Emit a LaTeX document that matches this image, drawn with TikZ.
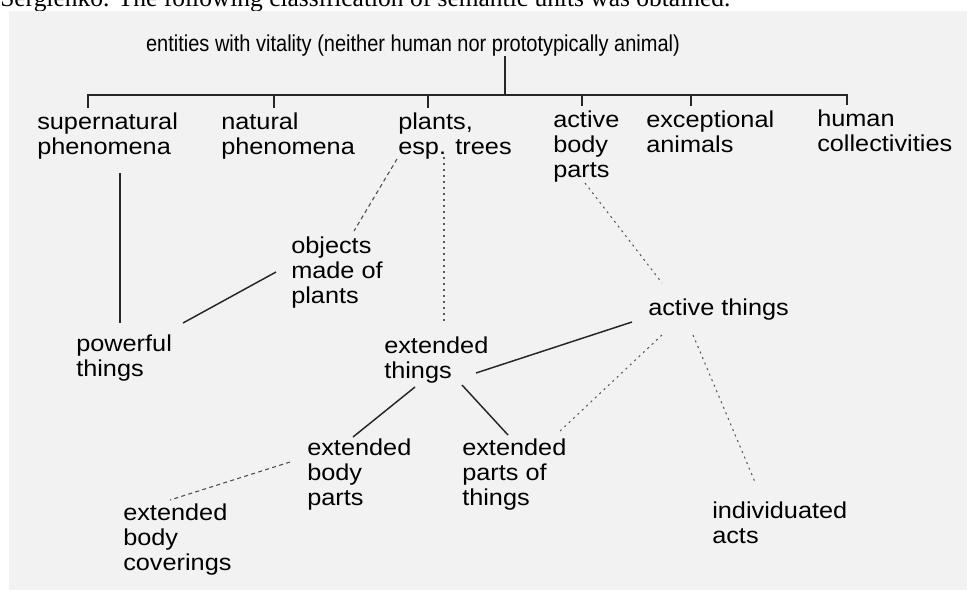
\documentclass[tikz,border=0pt]{standalone}
\usepackage{fontspec}
\setmainfont{Liberation Serif}
\newfontfamily\lblfont{Liberation Sans}[FakeStretch=1.1]
\newfontfamily\headfont{Liberation Sans}[FakeStretch=0.87]
% stacked lines, baseline on the first one
\newcommand{\lines}[1]{\begin{tabular}[t]{@{}l@{}}#1\end{tabular}}

\begin{document}
\begin{tikzpicture}[x=0.75pt, y=-0.75pt,
			lbl/.style={anchor=base west, inner sep=0pt, font=\lblfont\fontsize{17.25}{18.75}\selectfont},
			head/.style={anchor=base, inner sep=0pt, font=\headfont\fontsize{17.25}{18.75}\selectfont},
			solidline/.style={line width=1.1pt, black!85},
			dashline/.style={line width=0.8pt, black!70, dash pattern=on 3pt off 2.5pt},
			dotline/.style={line width=0.8pt, black!65, dash pattern=on 1.5pt off 3pt},
			]
			\useasboundingbox (0,0) rectangle (967,590);
			\clip (0,0) rectangle (967,590);
			
			% ---- caption and scanned page ----
			\node[anchor=base west, inner sep=0pt, font=\fontsize{19.1}{21}\selectfont] (caption) at (0,6.5) {Sergienko. The following classification of semantic units was obtained.};
			\fill[black!5] (9,11) rectangle (967,590);
			
			% ---- top level ----
			\node[head] (vital) at (413,51) {entities with vitality (neither human nor prototypically animal)};
			\coordinate (fork) at (505,95);
			\node[lbl] (supnat) at (37,129) {\lines{supernatural\\phenomena}};
			\node[lbl] (natphen) at (221,129) {\lines{natural\\phenomena}};
			\node[lbl] (plants) at (398,129) {\lines{plants,\\esp. trees}};
			\node[lbl] (actbody) at (553,127) {\lines{active\\body\\parts}};
			\node[lbl] (excanim) at (646,127) {\lines{exceptional\\animals}};
			\node[lbl] (humcoll) at (817,126) {\lines{human\\collectivities}};
			
			\draw[solidline] ([shift={(92,5)}]vital.base) -- (fork);
			\foreach \n/\dx in {supnat/51, natphen/53, plants/30, actbody/29, excanim/45, humcoll/30}
				\draw[solidline] (fork) -| ([shift={(\dx,-21)}]\n.base west);
			
			% ---- lower levels ----
			\node[lbl] (objects) at (291,253) {\lines{objects\\made of\\plants}};
			\node[lbl] (powerful) at (76,351) {\lines{powerful\\things}};
			\node[lbl] (extthings) at (384,353) {\lines{extended\\things}};
			\node[lbl] (actthings) at (648,315) {active things};
			\node[lbl] (extbody) at (307,455) {\lines{extended\\body\\parts}};
			\node[lbl] (extparts) at (462,455) {\lines{extended\\parts of\\things}};
			\node[lbl] (extcover) at (123,520) {\lines{extended\\body\\coverings}};
			\node[lbl] (indiv) at (712,518) {\lines{individuated\\acts}};
			
			\draw[solidline] ([shift={(83,44)}]supnat.base west) -- ([shift={(44,-28)}]powerful.base west);
			\draw[dashline] ([shift={(-1,30)}]plants.base west) -- ([shift={(63,-22)}]objects.base west);
			\draw[dotline] ([shift={(46,28)}]plants.base west) -- ([shift={(60,-30)}]extthings.base west);
			\draw[solidline] ([shift={(-15,19)}]objects.base west) -- ([shift={(107,-28)}]powerful.base west);
			\draw[dotline] ([shift={(32,56)}]actbody.base west) -- ([shift={(14,-32)}]actthings.base west);
			\draw[solidline] ([shift={(-16,7)}]actthings.base west) -- ([shift={(92,20)}]extthings.base west);
			\draw[dotline] ([shift={(14,20)}]actthings.base west) -- ([shift={(96,-22)}]extparts.base west);
			\draw[dotline] ([shift={(45,20)}]actthings.base west) -- ([shift={(43,-36)}]indiv.base west);
			\draw[solidline] ([shift={(31,34)}]extthings.base west) -- ([shift={(46,-18)}]extbody.base west);
			\draw[solidline] ([shift={(78,32)}]extthings.base west) -- ([shift={(46,-20)}]extparts.base west);
			\draw[dashline] ([shift={(-17,7)}]extbody.base west) -- ([shift={(47,-20)}]extcover.base west);
			
		\end{tikzpicture}
\end{document}
